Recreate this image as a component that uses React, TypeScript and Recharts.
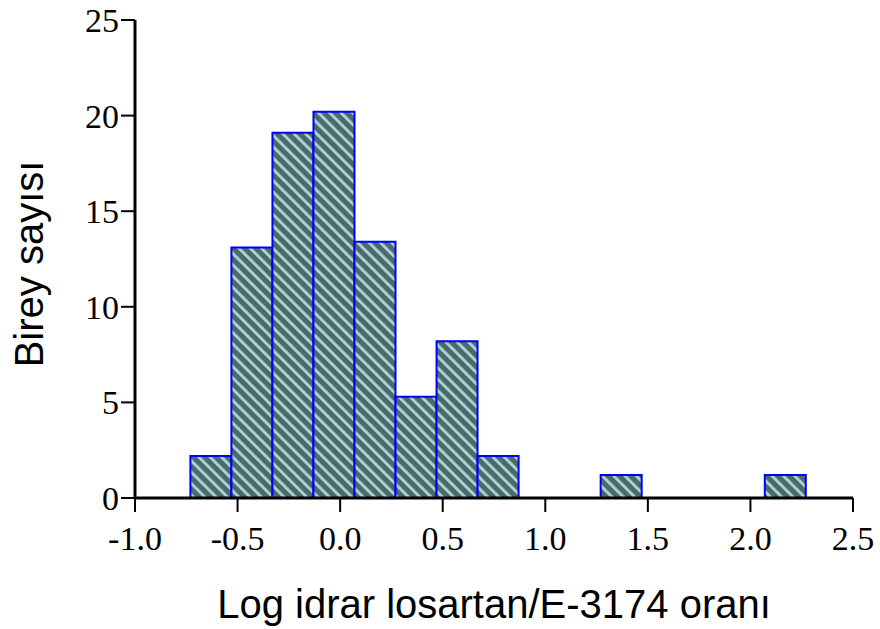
import { BarChart, Bar, XAxis, YAxis, Label } from "recharts";

// histogram bins (width 0.2), centers on the log scale
const binCenters = [-0.63, -0.43, -0.23, -0.03, 0.17, 0.37, 0.57, 0.77, 0.97, 1.17, 1.37, 1.57, 1.77, 1.97, 2.17];
const counts = [2.2, 13.1, 19.1, 20.2, 13.4, 5.3, 8.2, 2.2, 0, 0, 1.2, 0, 0, 0, 1.2];

const xTicks = [-1, -0.5, 0, 0.5, 1, 1.5, 2, 2.5];
const yTicks = [0, 5, 10, 15, 20, 25];

const data = binCenters.map((x, i) => ({ x, count: counts[i] }));

const tickStyle = { fontFamily: "'Liberation Serif', 'Times New Roman', serif", fontSize: 34, fill: "#000" };
const titleFont = "'Liberation Sans', Arial, sans-serif";

const YTitle = (props: any) => {
  const { viewBox } = props;
  const cx = 29;
  const cy = viewBox.y + viewBox.height / 2 + 5;
  return (
    <text x={cx} y={cy} transform={`rotate(-90, ${cx}, ${cy})`} textAnchor="middle" dominantBaseline="central" fontFamily={titleFont} fontSize={40} fill="#000">
      Birey sayısı
    </text>
  );
};

const XTitle = (props: any) => {
  const { viewBox } = props;
  return (
    <text x={viewBox.x + viewBox.width / 2} y={618} textAnchor="middle" fontFamily={titleFont} fontSize={40} fill="#000">
      Log idrar losartan/E-3174 oranı
    </text>
  );
};

export default function App() {
  return (
    <div style={{ position: "absolute", left: 0, top: 0 }}>
      <BarChart width={880} height={629} data={data} margin={{ top: 20, right: 27, bottom: 0, left: 0 }} barGap={0} barCategoryGap={0}>
        <defs>
          <pattern id="stripes" patternUnits="userSpaceOnUse" width={8} height={8} patternTransform="rotate(-45)">
            <rect x={0} y={0} width={8} height={8} fill="#516868" />
            <rect x={0} y={0} width={2.8} height={8} fill="#a6dada" />
          </pattern>
        </defs>
        <XAxis
          dataKey="x"
          type="number"
          domain={[-1, 2.5]}
          ticks={xTicks}
          interval={0}
          height={131}
          tickFormatter={(v: number) => v.toFixed(1)}
          tick={tickStyle}
          tickSize={14}
          tickMargin={14}
          stroke="#000"
          axisLine={{ strokeWidth: 3 }}
          tickLine={{ strokeWidth: 2 }}
        >
          <Label content={XTitle} />
        </XAxis>
        <YAxis
          type="number"
          domain={[0, 25]}
          ticks={yTicks}
          interval={0}
          width={135}
          tick={tickStyle}
          tickSize={14}
          tickMargin={2}
          stroke="#000"
          axisLine={{ strokeWidth: 3 }}
          tickLine={{ strokeWidth: 2 }}
        >
          <Label content={YTitle} />
        </YAxis>
        <Bar dataKey="count" fill="url(#stripes)" stroke="#0000ff" strokeWidth={2} barSize={41} isAnimationActive={false} />
      </BarChart>
    </div>
  );
}
